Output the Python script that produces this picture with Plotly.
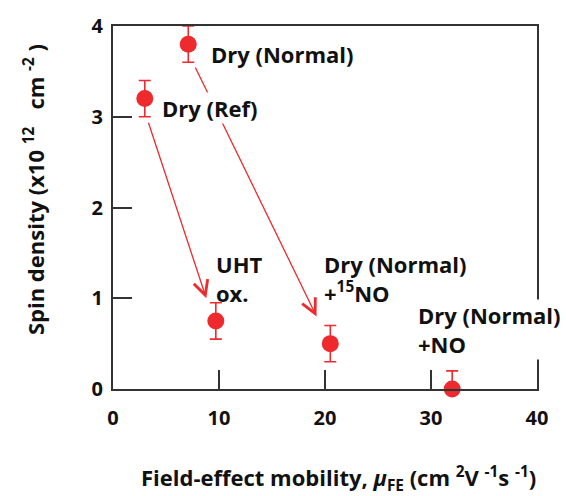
import plotly.graph_objects as go

# Data
labels = ["Dry (Ref)", "Dry (Normal)", "UHT ox.", "Dry (Normal) +15NO", "Dry (Normal) +NO"]
mobility = [3.0, 7.1, 9.7, 20.5, 32.0]
spin = [3.2, 3.8, 0.75, 0.5, 0.0]
err_plus = [0.2, 0.2, 0.2, 0.2, 0.2]
err_minus = [0.2, 0.2, 0.2, 0.2, 0.0]

# Arrows (tail -> head), in data units
arrow_x0 = [3.3, 7.7]
arrow_y0 = [2.95, 3.56]
arrow_x1 = [8.8, 19.2]
arrow_y1 = [1.0, 0.8]

x_ticks = [0, 10, 20, 30, 40]
y_ticks = [0, 1, 2, 3, 4]

RED = "#ee2a2e"
AX = "#333333"
FONT = "'Open Sans', sans-serif"

fig = go.Figure()
fig.add_trace(go.Scatter(
    x=mobility, y=spin, mode="markers",
    marker=dict(color=RED, size=17, line=dict(width=0)),
    error_y=dict(type="data", symmetric=False, array=err_plus, arrayminus=err_minus,
                 color=RED, thickness=1.6, width=6),
    cliponaxis=False, showlegend=False,
))

for x0, y0, x1, y1 in zip(arrow_x0, arrow_y0, arrow_x1, arrow_y1):
    fig.add_annotation(x=x1, y=y1, ax=x0, ay=y0, xref="x", yref="y", axref="x", ayref="y",
                       text="", showarrow=True, arrowhead=5, arrowsize=2.2,
                       arrowwidth=1.3, arrowcolor=RED, standoff=0, startstandoff=0)

txt_font = dict(family=FONT, size=22, color="#111111", weight="bold")
texts = [
    (4.5, 3.1, "Dry (Ref)", "white"),
    (9.15, 3.69, "Dry (Normal)", "rgba(0,0,0,0)"),
    (9.65, 1.22, "UHT<br>ox.", "rgba(0,0,0,0)"),
    (19.85, 1.22, "Dry (Normal)<br>+<sup>15</sup>NO", "rgba(0,0,0,0)"),
    (28.65, 0.66, "Dry (Normal)<br>+NO", "white"),
]
for tx, ty, t, bg in texts:
    fig.add_annotation(x=tx, y=ty, xref="x", yref="y", text=t, showarrow=False,
                       xanchor="left", yanchor="middle", align="left",
                       bgcolor=bg, borderpad=0, font=txt_font)

fig.add_annotation(
    x=0.533, y=-0.246, xref="paper", yref="paper", showarrow=False,
    xanchor="center", yanchor="middle",
    text="Field-effect mobility, <i>μ</i><sub>FE</sub> (cm <sup>2</sup>V <sup>-1</sup>s <sup>-1</sup>)",
    font=dict(family=FONT, size=22, color="#111111", weight="bold"),
)
fig.add_annotation(
    x=-0.187, y=0.55, xref="paper", yref="paper", showarrow=False, textangle=-90,
    xanchor="center", yanchor="middle",
    text="Spin density (x10 <sup>12</sup>   cm <sup>-2</sup> )",
    font=dict(family=FONT, size=22, color="#111111", weight="bold"),
)

axis_common = dict(showgrid=False, zeroline=False, showline=True, linecolor=AX, linewidth=2,
                   mirror=True, ticks="inside", ticklen=19, tickwidth=2, tickcolor=AX,
                   tickfont=dict(family=FONT, size=20, color="#111111", weight="bold"))
fig.update_xaxes(range=[0, 40], tickvals=x_ticks, ticklabelstandoff=10, **axis_common)
fig.update_yaxes(range=[0, 4], tickvals=y_ticks, ticklabelstandoff=4, **axis_common)

fig.update_layout(
    width=566, height=496, plot_bgcolor="white", paper_bgcolor="white",
    margin=dict(l=113, r=29, t=23, b=107, pad=0),
)
fig.write_html("out.html")
